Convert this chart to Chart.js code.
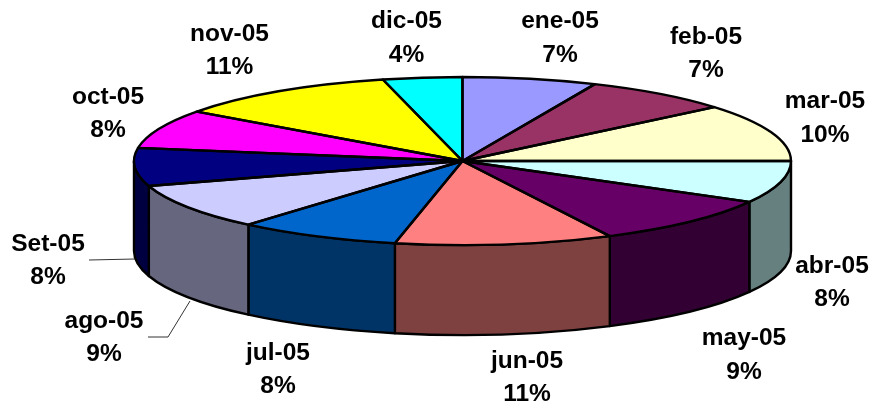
<!DOCTYPE html>
<html>
<head>
<meta charset="utf-8">
<title>Pie 3D</title>
<style>
  html, body { margin: 0; padding: 0; background: #fff; }
  canvas { display: block; }
</style>
<script src="https://cdn.jsdelivr.net/npm/chart.js@4/dist/chart.umd.min.js"></script>
</head>
<body>
<canvas id="pie" width="873" height="404"></canvas>
<script>
// datos
const months = ['ene-05', 'feb-05', 'mar-05', 'abr-05', 'may-05', 'jun-05', 'jul-05', 'ago-05', 'Set-05', 'oct-05', 'nov-05', 'dic-05'];
const shares = [6.6, 7.3, 11.1, 8.1, 9.5, 10.7, 8.0, 8.9, 7.3, 7.5, 11.1, 3.9];
const percentLabels = ['7%', '7%', '10%', '8%', '9%', '11%', '8%', '9%', '8%', '8%', '11%', '4%'];

const sliceColors = ['#9999ff', '#993366', '#ffffcc', '#ccffff', '#660066', '#ff8080', '#0066cc', '#ccccff', '#000080', '#ff00ff', '#ffff00', '#00ffff'];

// geometria de la "tarta" en perspectiva
const pie = { cx: 462.5, cy: 161, rx: 328.5, ry: 84, depth: 90 };

// centro de cada etiqueta [x, y primera linea, y segunda linea]
const labelAt = [
  [560, 21, 55], [706, 37, 70], [825, 101, 135], [832, 266, 299],
  [744, 338, 372], [527, 361, 394], [278, 353, 386], [104, 321, 354],
  [48, 244, 277], [108, 97, 130], [229.5, 34, 67], [406.5, 21, 55],
];
const leaders = [
  [[89, 260], [135, 259]],
  [[148, 337], [168, 337], [190, 301]],
];

function halfTone(hex) {
  const n = parseInt(hex.slice(1), 16);
  const ch = (s) => Math.floor(((n >> s) & 255) / 2);
  return `rgb(${ch(16)},${ch(8)},${ch(0)})`;
}

const pie3d = {
  id: 'pie3d',
  beforeDatasetsDraw(chart) {
    const ctx = chart.ctx;
    const arcs = chart.getDatasetMeta(0).data;
    ctx.save();
    ctx.lineWidth = 2.4;
    ctx.lineJoin = 'round';
    ctx.strokeStyle = '#000';
    // pared lateral, solo la mitad frontal
    arcs.forEach((arc, i) => {
      const lo = Math.max(arc.startAngle, 0);
      const hi = Math.min(arc.endAngle, Math.PI);
      if (hi <= lo) return;
      ctx.beginPath();
      ctx.ellipse(pie.cx, pie.cy, pie.rx, pie.ry, 0, lo, hi);
      ctx.ellipse(pie.cx, pie.cy + pie.depth, pie.rx, pie.ry, 0, hi, lo, true);
      ctx.closePath();
      ctx.fillStyle = halfTone(sliceColors[i]);
      ctx.fill();
      ctx.stroke();
    });
    ctx.restore();

    // la cara superior la pinta Chart.js, aplastada a elipse
    const a = arcs[0];
    ctx.save();
    ctx.translate(pie.cx, pie.cy);
    ctx.scale(pie.rx / a.outerRadius, pie.ry / a.outerRadius);
    ctx.translate(-a.x, -a.y);
  },
  afterDatasetsDraw(chart) {
    const ctx = chart.ctx;
    ctx.restore();

    const arcs = chart.getDatasetMeta(0).data;
    ctx.save();
    ctx.lineWidth = 2.4;
    ctx.lineJoin = 'round';
    ctx.strokeStyle = '#000';
    arcs.forEach((arc) => {
      ctx.beginPath();
      ctx.moveTo(pie.cx, pie.cy);
      ctx.ellipse(pie.cx, pie.cy, pie.rx, pie.ry, 0, arc.startAngle, arc.endAngle);
      ctx.closePath();
      ctx.stroke();
    });

    ctx.lineWidth = 1;
    ctx.strokeStyle = '#333';
    leaders.forEach((pts) => {
      ctx.beginPath();
      pts.forEach((p, i) => (i ? ctx.lineTo(p[0], p[1]) : ctx.moveTo(p[0], p[1])));
      ctx.stroke();
    });

    ctx.fillStyle = '#000';
    ctx.font = 'bold 24.5px "Liberation Sans", Arial, sans-serif';
    ctx.textAlign = 'center';
    ctx.textBaseline = 'middle';
    months.forEach((m, i) => {
      const [x, y1, y2] = labelAt[i];
      ctx.fillText(m, x, y1);
      ctx.fillText(percentLabels[i], x, y2);
    });
    ctx.restore();
  },
};

new Chart(document.getElementById('pie'), {
  type: 'pie',
  data: {
    labels: months,
    datasets: [{
      data: shares,
      backgroundColor: sliceColors,
      borderWidth: 0,
      clip: false,
    }],
  },
  options: {
    responsive: false,
    animation: false,
    plugins: { legend: { display: false }, tooltip: { enabled: false } },
  },
  plugins: [pie3d],
});
</script>
</body>
</html>
